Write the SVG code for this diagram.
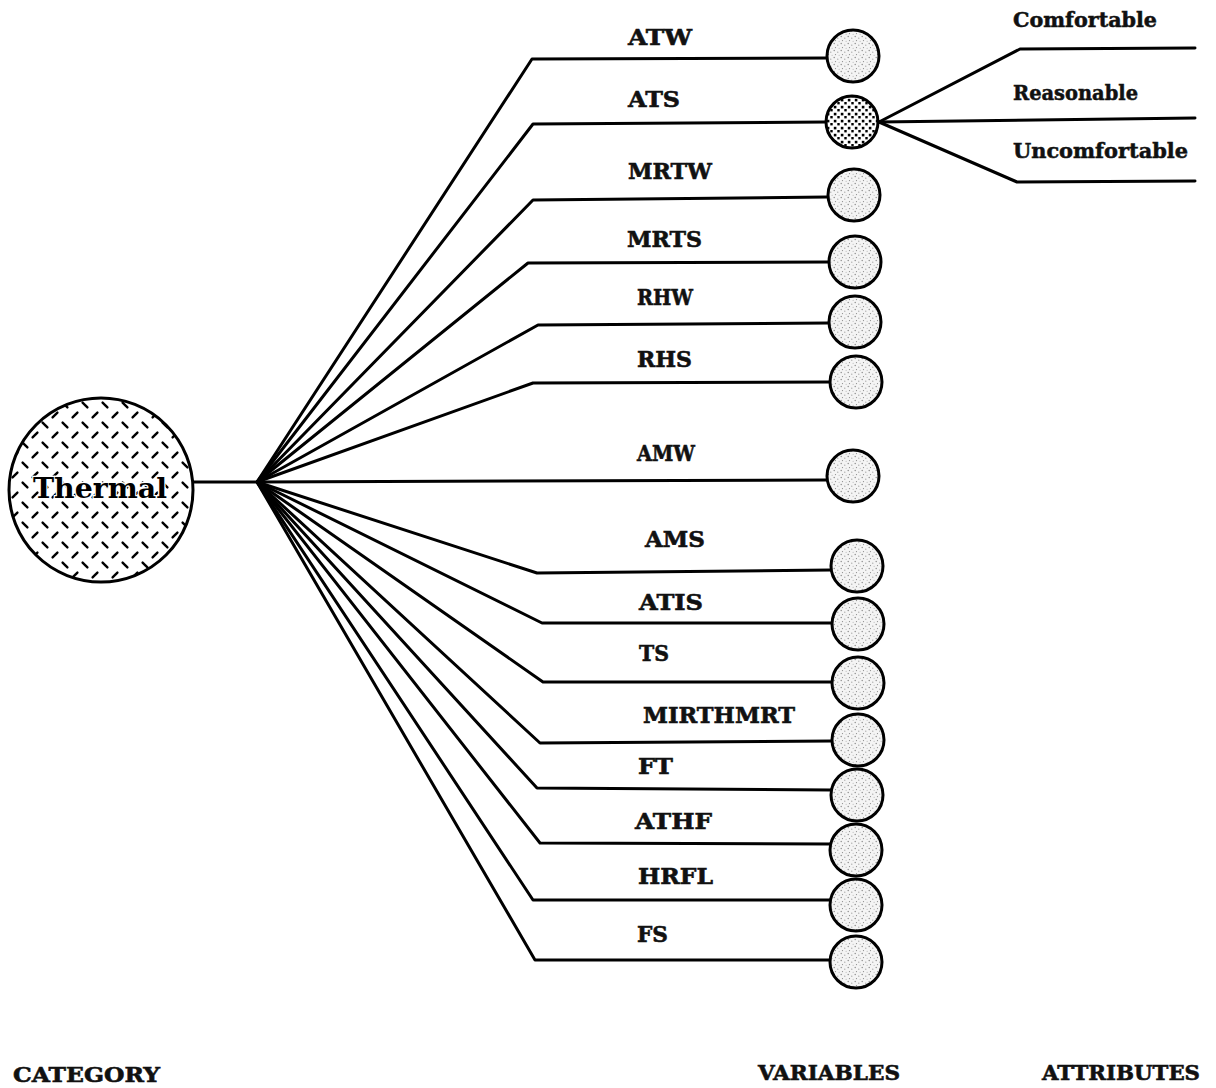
<svg xmlns="http://www.w3.org/2000/svg" width="1216" height="1088" viewBox="0 0 1216 1088">
  <style>
    .lbl { font-family: "DejaVu Serif", "Liberation Serif", serif; font-weight: bold; font-size: 23px; fill: #111; stroke: #111; stroke-width: 0.6; }
    .att { font-family: "DejaVu Serif", "Liberation Serif", serif; font-weight: bold; font-size: 20px; fill: #111; stroke: #111; stroke-width: 0.5; }
    .axis { font-family: "DejaVu Serif", "Liberation Serif", serif; font-weight: bold; font-size: 21px; fill: #111; stroke: #111; stroke-width: 0.6; }
    .wire { fill: none; stroke: #000; stroke-width: 3; stroke-linejoin: round; stroke-linecap: round; }
    .var { fill: url(#stipple); stroke: #000; stroke-width: 3; }
    .attr { fill: url(#coarse); stroke: #000; stroke-width: 3; }
    .cat { fill: url(#plate); stroke: #000; stroke-width: 3; }
  </style>
  <defs>
    <!-- light stipple for variable nodes -->
    <pattern id="stipple" width="7" height="7" patternUnits="userSpaceOnUse">
      <rect width="7" height="7" fill="#f4f4f4"/>
      <circle cx="1.2" cy="1.5" r="0.7" fill="#888"/>
      <circle cx="4.8" cy="3.2" r="0.6" fill="#999"/>
      <circle cx="2.5" cy="5.6" r="0.6" fill="#888"/>
      <circle cx="6.1" cy="6.3" r="0.5" fill="#aaa"/>
    </pattern>
    <!-- coarse dark dots for the expanded variable -->
    <pattern id="coarse" width="7" height="7" patternUnits="userSpaceOnUse">
      <rect width="7" height="7" fill="#fff"/>
      <rect x="0.8" y="0.8" width="2.6" height="2.6" fill="#000"/>
      <rect x="4.3" y="4" width="2.4" height="2.4" fill="#000"/>
    </pattern>
    <!-- staggered diamond-plate dashes for the category node -->
    <pattern id="plate" width="20" height="20" patternUnits="userSpaceOnUse">
      <rect width="20" height="20" fill="#fff"/>
      <g stroke="#000" stroke-width="2.4" stroke-linecap="round">
        <line x1="2.6" y1="2.6" x2="7.4" y2="7.4"/>
        <line x1="12.6" y1="17.4" x2="17.4" y2="12.6"/>
      </g>
    </pattern>
  </defs>

  <!-- connectors -->
  <g id="connectors" class="wire">
    <line x1="193" y1="482" x2="257" y2="482"/>
    <polyline points="257,482 532,59 827,58"/>
    <polyline points="257,482 533,124 826,122"/>
    <polyline points="257,482 533,200 827,197"/>
    <polyline points="257,482 528,263 829,262"/>
    <polyline points="257,482 538,325 829,323"/>
    <polyline points="257,482 533,383 830,382"/>
    <polyline points="257,482 826,480"/>
    <polyline points="257,482 537,573 831,570"/>
    <polyline points="257,482 542,623 832,623"/>
    <polyline points="257,482 543,682 832,682"/>
    <polyline points="257,482 540,743 832,741"/>
    <polyline points="257,482 537,788 831,790"/>
    <polyline points="257,482 540,843 830,844"/>
    <polyline points="257,482 533,900 830,900"/>
    <polyline points="257,482 535,960 830,960"/>
    <polyline points="879,122 1020,49 1195,48"/>
    <polyline points="879,122 1195,118"/>
    <polyline points="879,122 1017,182 1195,181"/>
  </g>

  <!-- category node -->
  <g id="thermal">
    <circle class="cat" cx="101" cy="490" r="92"/>
    <text x="100" y="498" text-anchor="middle" font-family="DejaVu Serif, Liberation Serif, serif" font-weight="bold" font-size="28" fill="#000" stroke="#fff" stroke-width="2.5" paint-order="stroke" textLength="134" lengthAdjust="spacingAndGlyphs">Thermal</text>
  </g>

  <!-- variable nodes -->
  <g id="ATW"><circle class="var" cx="853" cy="56" r="26"/><text class="lbl" x="628" y="45" textLength="64" lengthAdjust="spacingAndGlyphs">ATW</text></g>
  <g id="ATS"><circle class="attr" cx="852" cy="122" r="26"/><text class="lbl" x="628" y="107" textLength="52" lengthAdjust="spacingAndGlyphs">ATS</text></g>
  <g id="MRTW"><circle class="var" cx="854" cy="195" r="26"/><text class="lbl" x="628" y="179" textLength="84" lengthAdjust="spacingAndGlyphs">MRTW</text></g>
  <g id="MRTS"><circle class="var" cx="855" cy="262" r="26"/><text class="lbl" x="627" y="247" textLength="75" lengthAdjust="spacingAndGlyphs">MRTS</text></g>
  <g id="RHW"><circle class="var" cx="855" cy="322" r="26"/><text class="lbl" x="637" y="305" textLength="56" lengthAdjust="spacingAndGlyphs">RHW</text></g>
  <g id="RHS"><circle class="var" cx="856" cy="382" r="26"/><text class="lbl" x="637" y="367" textLength="55" lengthAdjust="spacingAndGlyphs">RHS</text></g>
  <g id="AMW"><circle class="var" cx="853" cy="476" r="26"/><text class="lbl" x="637" y="461" textLength="58" lengthAdjust="spacingAndGlyphs">AMW</text></g>
  <g id="AMS"><circle class="var" cx="857" cy="566" r="26"/><text class="lbl" x="645" y="547" textLength="60" lengthAdjust="spacingAndGlyphs">AMS</text></g>
  <g id="ATIS"><circle class="var" cx="858" cy="624" r="26"/><text class="lbl" x="639" y="610" textLength="64" lengthAdjust="spacingAndGlyphs">ATIS</text></g>
  <g id="TS"><circle class="var" cx="858" cy="683" r="26"/><text class="lbl" x="639" y="661" textLength="30" lengthAdjust="spacingAndGlyphs">TS</text></g>
  <g id="MIRTHMRT"><circle class="var" cx="858" cy="740" r="26"/><text class="lbl" x="643" y="723" textLength="152" lengthAdjust="spacingAndGlyphs">MIRTHMRT</text></g>
  <g id="FT"><circle class="var" cx="857" cy="795" r="26"/><text class="lbl" x="638" y="774" textLength="35" lengthAdjust="spacingAndGlyphs">FT</text></g>
  <g id="ATHF"><circle class="var" cx="856" cy="850" r="26"/><text class="lbl" x="635" y="829" textLength="77" lengthAdjust="spacingAndGlyphs">ATHF</text></g>
  <g id="HRFL"><circle class="var" cx="856" cy="905" r="26"/><text class="lbl" x="638" y="884" textLength="75" lengthAdjust="spacingAndGlyphs">HRFL</text></g>
  <g id="FS"><circle class="var" cx="856" cy="962" r="26"/><text class="lbl" x="637" y="942" textLength="31" lengthAdjust="spacingAndGlyphs">FS</text></g>

  <!-- attribute values -->
  <g id="comfortable"><text class="att" x="1013" y="27" textLength="144" lengthAdjust="spacingAndGlyphs">Comfortable</text></g>
  <g id="reasonable"><text class="att" x="1013" y="100" textLength="125" lengthAdjust="spacingAndGlyphs">Reasonable</text></g>
  <g id="uncomfortable"><text class="att" x="1013" y="158" textLength="175" lengthAdjust="spacingAndGlyphs">Uncomfortable</text></g>

  <!-- column headings -->
  <text class="axis" x="13" y="1082" textLength="147" lengthAdjust="spacingAndGlyphs">CATEGORY</text>
  <text class="axis" x="758" y="1080" textLength="142" lengthAdjust="spacingAndGlyphs">VARIABLES</text>
  <text class="axis" x="1042" y="1080" textLength="158" lengthAdjust="spacingAndGlyphs">ATTRIBUTES</text>
</svg>
